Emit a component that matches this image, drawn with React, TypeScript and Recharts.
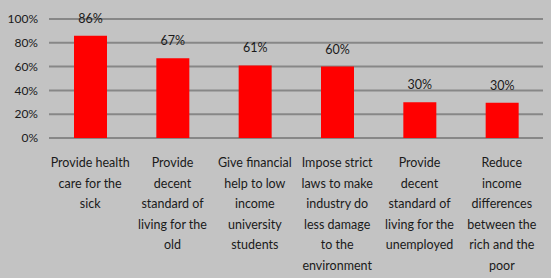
import { BarChart, Bar, XAxis, YAxis, CartesianGrid, LabelList } from 'recharts';

const categories = [
  ['Provide health', 'care for the', 'sick'],
  ['Provide', 'decent', 'standard of', 'living for the', 'old'],
  ['Give financial', 'help to low', 'income', 'university', 'students'],
  ['Impose strict', 'laws to make', 'industry do', 'less damage', 'to the', 'environment'],
  ['Provide', 'decent', 'standard of', 'living for the', 'unemployed'],
  ['Reduce', 'income', 'differences', 'between the', 'rich and the', 'poor'],
];
const support = [86, 67, 61, 60, 30, 29.6];
const yTicks = [0, 20, 40, 60, 80, 100];

const data = categories.map((lines, i) => ({ name: lines.join(' '), value: support[i] }));

const FONT = 'Lato, "DejaVu Sans", sans-serif';

const CategoryTick = (props: any) => {
  const { x, y, payload, index } = props;
  const lines = categories[index] ?? [payload.value];
  return (
    <text x={x} y={y + 21} textAnchor="middle" fontFamily={FONT} fontSize={12.5} fill="#1a1a1a">
      {lines.map((l: string, i: number) => (
        <tspan key={i} x={x} dy={i === 0 ? 0 : 20.5}>
          {l}
        </tspan>
      ))}
    </text>
  );
};

export default function App() {
  return (
    <div style={{ position: 'absolute', left: 0, top: 0, width: 551, height: 278, background: '#c3c3c3' }}>
      <BarChart width={551} height={278} data={data} margin={{ top: 19, right: 8, left: 0, bottom: 0 }}>
        <CartesianGrid vertical={false} stroke="#878787" strokeWidth={2} />
        <XAxis dataKey="name" height={140} axisLine={false} tickLine={false} interval={0} tick={<CategoryTick />} />
        <YAxis
          width={49}
          domain={[0, 100]}
          ticks={yTicks}
          axisLine={false}
          tickLine={false}
          tickMargin={5}
          tickFormatter={(v: number) => `${v}%`}
          tick={{ fill: '#1a1a1a', fontSize: 12, fontFamily: FONT }}
        />
        <Bar dataKey="value" fill="#ff0000" barSize={33} isAnimationActive={false}>
          <LabelList
            dataKey="value"
            position="top"
            offset={13}
            formatter={(v: any) => `${Math.round(Number(v))}%`}
            style={{ fill: '#1a1a1a', fontSize: 12.5, fontFamily: FONT }}
          />
        </Bar>
      </BarChart>
    </div>
  );
}
